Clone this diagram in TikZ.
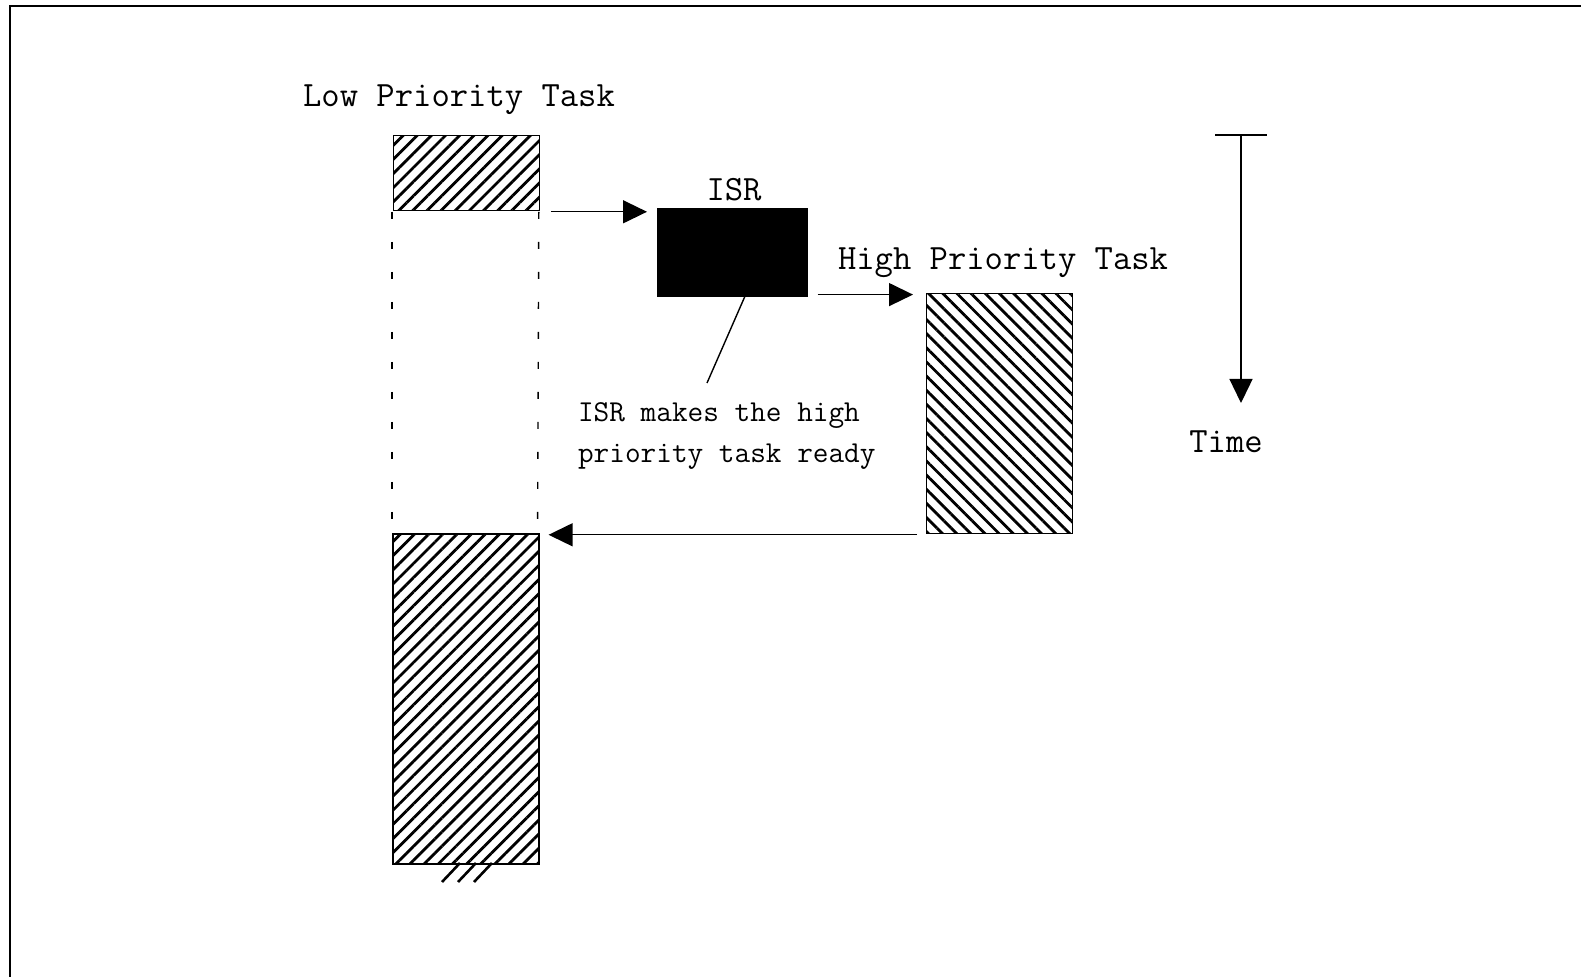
\documentclass[tikz,border=0pt]{standalone}
\usetikzlibrary{patterns.meta,arrows.meta}

\begin{document}
\begin{tikzpicture}[x=0.5pt, y=-0.5pt,
    font=\fontsize{17.8}{20.5}\selectfont\ttfamily,
    taskbox/.style={draw, line width=0.8pt, inner sep=0pt, anchor=north west, minimum width=73pt},
    lowhatch/.style={pattern={Lines[angle=45,distance=5pt,line width=1.4pt]}},
    highhatch/.style={pattern={Lines[angle=-45,distance=5pt,line width=1.4pt]}},
    flow/.style={line width=0.7pt, -{Triangle[length=12pt,width=11.5pt]}},
    guide/.style={line width=0.7pt, dash pattern=on 3.5pt off 11.5pt}]
    \useasboundingbox (0,0) rectangle (1581,977);

    % Frame: only the top and left edges show
    \draw[line width=1pt] (9.5,977) -- (9.5,6.5) -- (1581,6.5);

    % Task blocks
    \node[taskbox, lowhatch, minimum height=37.5pt] (lowA) at (392,134) {};
    \node[taskbox, lowhatch, minimum height=165pt] (lowB) at (392,533) {};
    \node[taskbox, fill=black, minimum width=74.5pt, minimum height=43.5pt] (isr) at (657,208) {};
    \node[taskbox, highhatch, minimum height=120pt] (high) at (925,292) {};

    % Torn bottom of the low priority task
    \foreach \x in {442,458,474}
        \draw[line width=1.3pt] (\x,882) -- (\x+18,863);

    % Labels
    \node (lowlbl) at (459,100) {Low Priority Task};
    \node (isrlbl) at (734,190) {ISR};
    \node (highlbl) at (1003,263) {High Priority Task};
    \node[align=left, anchor=west, font=\fontsize{15.2}{20.5}\selectfont\ttfamily] (note) at (571,436) {ISR makes the high\\priority task ready};
    \node (timelbl) at (1226,442) {Time};

    % Control flow between tasks
    \draw[flow] ([xshift=5pt]lowA.south east) -- ([xshift=-5pt]lowA.south east -| isr.west);
    \draw[flow] ([xshift=5pt,yshift=1pt]isr.south east) -- ([xshift=-6pt,yshift=1pt]isr.south east -| high.west);
    \draw[flow] ([xshift=-4pt]high.south west) -- ([xshift=4.5pt]high.south west -| lowB.east);

    % Low priority task is suspended here
    \draw[guide] (lowA.south west) -- (lowB.north west);
    \draw[guide] ([xshift=-1pt]lowA.south east) -- ([xshift=-1pt]lowB.north east);

    % Leader to the note
    \coordinate (noteend) at (707,383);
    \draw[line width=0.7pt] ([xshift=6.25pt]isr.south) -- (noteend);

    % Time axis
    \coordinate (ttop) at (1241,135);
    \coordinate (tend) at (1241,403);
    \draw[line width=0.7pt] ([xshift=-13pt]ttop) -- ([xshift=13pt]ttop);
    \draw[flow] (ttop) -- (tend);
\end{tikzpicture}
\end{document}
